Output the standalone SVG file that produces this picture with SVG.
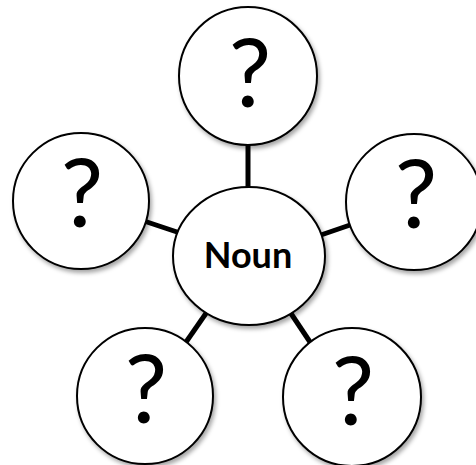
<svg xmlns="http://www.w3.org/2000/svg" width="476" height="465" viewBox="0 0 476 465">
<defs>
<filter id="sh" x="-20%" y="-20%" width="140%" height="140%">
<feDropShadow dx="2" dy="3" stdDeviation="2" flood-color="#000" flood-opacity="0.35"/>
</filter>
<style>
.c{fill:#fff;stroke:#000;stroke-width:2;filter:url(#sh)}
.q{font-family:Lato,"Liberation Sans",Arial,sans-serif;font-size:95px;text-anchor:middle;fill:#000}
.n{font-family:Lato,"Liberation Sans",Arial,sans-serif;font-size:36px;font-weight:bold;text-anchor:middle;fill:#000}
.l{stroke:#000;stroke-width:5;fill:none}
</style>
</defs>
<rect width="476" height="465" fill="#fff"/>
<g id="connectors">
<line class="l" x1="248" y1="135" x2="248" y2="192"/>
<line class="l" x1="144" y1="221" x2="180" y2="233"/>
<line class="l" x1="318" y1="236" x2="353" y2="224"/>
<line class="l" x1="209" y1="309" x2="184" y2="345"/>
<line class="l" x1="288" y1="309" x2="312" y2="345"/>
</g>
<g id="node-top"><circle class="c" cx="248" cy="76" r="69"/><text class="q" x="250" y="107">?</text></g>
<g id="node-left"><circle class="c" cx="81" cy="201" r="68"/><text class="q" x="82" y="227">?</text></g>
<g id="node-right"><circle class="c" cx="414" cy="202" r="68"/><text class="q" x="416" y="228">?</text></g>
<g id="node-bottom-left"><circle class="c" cx="145" cy="396" r="68"/><text class="q" x="146" y="423">?</text></g>
<g id="node-bottom-right"><circle class="c" cx="352" cy="397" r="69"/><text class="q" x="353" y="425">?</text></g>
<g id="node-noun"><ellipse class="c" cx="249" cy="256" rx="76" ry="69"/><text class="n" x="248" y="268">Noun</text></g>
</svg>
